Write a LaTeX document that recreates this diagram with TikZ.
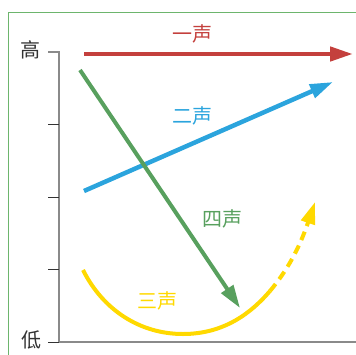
\documentclass[tikz,border=0pt]{standalone}
\usepackage{fontspec}
\newfontfamily\cjk{Noto Sans CJK SC}
\usetikzlibrary{arrows.meta}
\definecolor{tred}{HTML}{C4403D}
\definecolor{tblue}{HTML}{2BA4DD}
\definecolor{tgreen}{HTML}{58A05E}
\definecolor{tyellow}{HTML}{FFD900}
\definecolor{tframe}{HTML}{6DB56D}
\definecolor{taxis}{HTML}{8A8A8A}
\definecolor{ttext}{HTML}{333333}
\begin{document}
\begin{tikzpicture}[x=1pt,y=-1pt,
  lbl/.style={font=\cjk\fontsize{20}{20}\selectfont, inner sep=0pt},
  tone/.style={line width=4.5pt, -{Triangle[length=23pt,width=14pt]}},
  tick/.style={draw=ttext, line width=1pt}]
\useasboundingbox (0,0) rectangle (356,354);
% frame
\draw[tframe, line width=1pt] (8,360) -- (8,12) -- (360,12);
% axis
\coordinate (top) at (59,52);
\coordinate (bot) at (59,342);
\draw[taxis, line width=1.2pt] (48,52) -- (top) -- (bot) -- (356,342);
\draw[tick] (48,342) -- (bot);
\foreach \y in {124,197,269} \draw[tick] (48,\y) -- (59,\y);
\node[lbl, text=ttext] (hi) at (30,50) {高};
\node[lbl, text=ttext] (lo) at (31,340) {低};
% tone 1
\coordinate (r1) at (84,54);
\coordinate (r2) at (353,54);
\draw[tone, tred] (r1) -- (r2);
\node[lbl, text=tred] (t1) at (192,34) {一声};
% tone 2
\coordinate (b1) at (84,191);
\coordinate (b2) at (333,82);
\draw[tone, tblue] (b1) -- (b2);
\node[lbl, text=tblue] (t2) at (192,116) {二声};
% tone 4
\coordinate (g1) at (80,70);
\coordinate (g2) at (240,308);
\draw[tone, tgreen, line width=4pt] (g1) -- (g2);
\node[lbl, text=tgreen] (t4) at (222,219) {四声};
% tone 3
\coordinate (y1) at (83,270);
\coordinate (ym) at (183,334);
\coordinate (y2) at (270,291);
\coordinate (y3) at (315,202);
\draw[tyellow, line width=4pt] (y1) .. controls (103,310) and (140,334) .. (ym)
   .. controls (225,334) and (252,312) .. (y2);
\draw[tyellow, line width=4pt, dash pattern=on 9pt off 6pt, -{Triangle[length=22pt,width=14pt]}]
   (y2) .. controls (285,273) and (298,252) .. (y3);
\node[lbl, text=tyellow] (t3) at (157,301) {三声};
\end{tikzpicture}
\end{document}
